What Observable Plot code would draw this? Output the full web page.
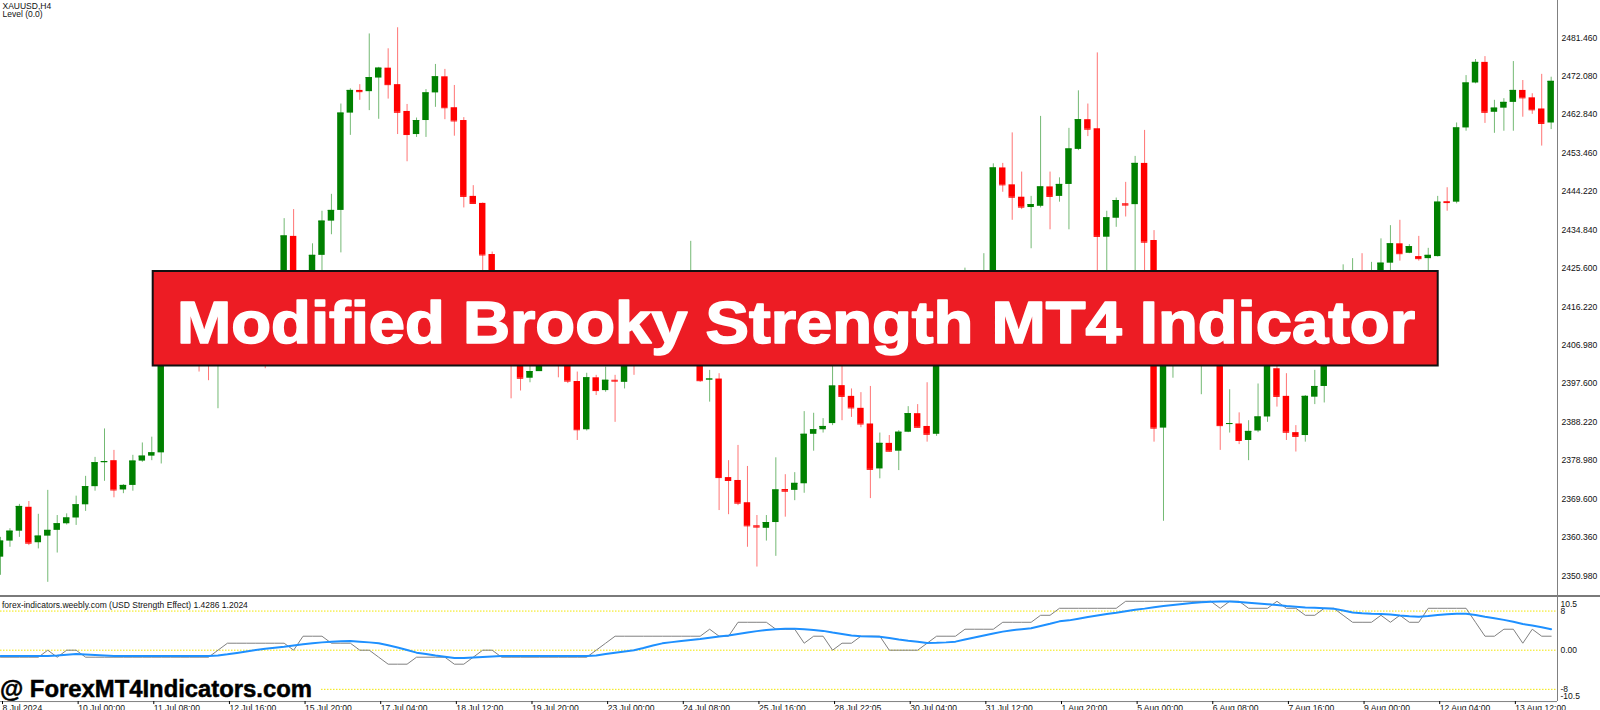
<!DOCTYPE html>
<html><head><meta charset="utf-8">
<script src="https://cdn.jsdelivr.net/npm/d3@7"></script>
<script src="https://cdn.jsdelivr.net/npm/@observablehq/plot@0.6"></script>
<style>
html,body{margin:0;padding:0;background:#fff;width:1600px;height:710px;overflow:hidden;}
#wrap{position:relative;width:1600px;height:710px;font-family:"Liberation Sans",Arial,sans-serif;}
#main{position:absolute;left:0;top:0;}
#ind{position:absolute;left:0;top:596px;}
#sep{position:absolute;left:0;top:595px;width:1600px;height:2px;background:#7a7a7a;}
#vax{position:absolute;left:1556.5px;top:0;width:1px;height:701px;background:#808080;}
#over{position:absolute;left:0;top:0;pointer-events:none;}
</style></head>
<body><div id="wrap"><div id="main"></div><div id="sep"></div><div id="ind"></div><div id="vax"></div>
<svg id="over" width="1600" height="710"></svg></div>
<script>
// ---- price data (XAUUSD H4), bar index 0..164 ----
const open = [2355.5,2359.4,2361.8,2367.6,2359.0,2360.6,2362.0,2363.6,2365.0,2368.2,2372.6,2378.4,2378.9,2371.8,2372.9,2378.8,2380.0,2380.8,2417.8,2420.2,
2416.5,2412.9,2406.8,2404.4,2410.5,2414.1,2412.9,2416.5,2415.3,2410.5,2417.8,2433.3,2420.2,2421.4,2428.7,2437.0,2439.6,2463.2,2468.7,2468.4,
2471.7,2474.1,2470.1,2463.6,2458.0,2461.4,2468.1,2472.0,2464.5,2461.4,2443.0,2441.3,2428.9,2417.8,2412.9,2406.8,2398.9,2400.5,2405.6,2408.0,
2404.4,2398.1,2386.4,2399.0,2395.9,2398.4,2397.9,2405.6,2403.2,2408.0,2410.5,2408.0,2412.9,2410.5,2417.8,2398.5,2398.7,2374.8,2374.1,2368.7,
2363.1,2362.5,2363.9,2371.9,2371.7,2373.3,2385.3,2386.4,2387.9,2397.1,2394.5,2391.6,2387.8,2376.9,2383.1,2381.2,2385.8,2390.3,2387.2,2385.3,
2410.5,2412.9,2411.7,2417.8,2415.3,2419.0,2449.9,2445.8,2442.8,2440.3,2440.6,2445.3,2443.0,2445.9,2454.4,2461.6,2459.4,2433.1,2437.7,2441.2,
2441.0,2451.0,2432.3,2386.8,2410.5,2415.3,2411.7,2409.3,2416.5,2412.9,2387.7,2387.8,2383.8,2386.1,2389.5,2401.2,2394.5,2385.7,2385.0,2394.3,
2396.9,2408.0,2412.9,2419.0,2421.4,2419.0,2422.6,2426.8,2431.5,2429.2,2428.4,2427.9,2428.4,2441.7,2441.6,2459.6,2470.5,2475.5,2463.4,2464.4,
2465.8,2468.7,2466.9,2464.2,2460.8];
const high = [2360.3,2362.4,2368.3,2369.0,2365.9,2371.7,2365.6,2366.0,2370.3,2375.1,2379.7,2386.6,2381.4,2373.1,2380.2,2383.2,2384.6,2420.2,2422.6,2421.4,
2419.0,2415.3,2410.5,2412.9,2416.5,2417.8,2419.0,2419.0,2417.8,2420.2,2437.6,2439.8,2423.8,2431.5,2439.4,2443.5,2465.4,2469.1,2470.1,2482.4,
2474.3,2478.8,2483.9,2465.3,2462.0,2468.9,2475.0,2473.8,2469.9,2462.1,2445.6,2441.4,2429.5,2420.2,2415.3,2409.3,2403.2,2408.0,2410.5,2410.5,
2406.8,2400.4,2400.1,2399.6,2401.6,2399.6,2408.0,2406.8,2410.5,2412.9,2412.9,2415.3,2416.5,2432.1,2420.2,2400.8,2400.0,2378.9,2382.6,2377.5,
2365.6,2365.6,2379.6,2375.5,2376.0,2390.8,2390.4,2389.1,2403.2,2403.2,2396.3,2395.4,2396.9,2385.6,2385.0,2386.2,2392.0,2392.5,2397.8,2412.9,
2415.3,2417.8,2425.6,2420.2,2429.1,2450.9,2451.0,2458.4,2448.9,2443.0,2462.4,2448.9,2447.5,2459.5,2468.6,2465.4,2477.8,2439.4,2442.6,2446.4,
2452.7,2459.0,2434.7,2412.9,2419.0,2417.8,2415.3,2420.2,2419.0,2415.3,2396.1,2390.5,2388.6,2397.5,2404.4,2402.2,2400.0,2387.4,2394.7,2400.8,
2410.5,2415.3,2426.4,2427.9,2429.1,2427.0,2432.7,2435.9,2437.2,2431.3,2433.3,2430.4,2443.0,2445.1,2460.8,2472.3,2476.2,2476.9,2466.3,2466.7,
2475.7,2471.1,2467.9,2472.6,2471.9];
const low = [2351.1,2357.9,2360.3,2358.3,2357.5,2349.4,2356.5,2363.3,2363.2,2366.6,2371.5,2373.9,2369.9,2370.9,2371.5,2378.5,2378.9,2378.1,2415.3,2414.1,
2410.5,2400.4,2398.3,2391.5,2408.0,2409.3,2410.5,2411.7,2401.2,2408.0,2415.3,2417.8,2417.8,2419.0,2423.8,2433.7,2429.3,2457.8,2466.3,2463.8,
2461.7,2466.6,2458.0,2451.4,2457.3,2457.3,2464.6,2461.6,2457.6,2440.2,2441.2,2423.8,2415.3,2408.0,2393.9,2395.8,2397.8,2402.2,2403.2,2399.0,
2397.6,2383.8,2386.1,2394.7,2395.5,2388.2,2396.3,2399.6,2402.2,2405.6,2404.4,2405.6,2408.0,2408.0,2397.9,2393.1,2366.8,2365.8,2368.0,2357.9,
2353.1,2359.4,2355.7,2365.2,2369.2,2371.0,2381.2,2385.6,2387.4,2388.6,2389.4,2386.9,2369.7,2374.5,2381.0,2376.5,2385.7,2386.9,2383.4,2384.8,
2406.8,2408.0,2409.3,2412.9,2412.9,2416.5,2444.0,2437.2,2439.8,2430.3,2440.2,2434.9,2441.6,2434.9,2454.1,2457.5,2422.6,2421.4,2435.5,2438.0,
2420.2,2420.2,2383.4,2364.2,2398.9,2404.4,2405.6,2394.9,2406.8,2381.4,2385.6,2382.8,2378.9,2385.7,2388.2,2391.9,2383.8,2381.0,2383.4,2392.5,
2392.9,2405.6,2410.5,2415.3,2416.5,2417.8,2420.2,2425.0,2427.3,2429.1,2427.3,2425.0,2428.3,2439.4,2441.2,2458.8,2470.3,2460.7,2458.3,2458.8,
2458.8,2462.2,2462.9,2455.2,2459.2];
const close = [2359.4,2361.8,2367.8,2358.9,2360.6,2362.0,2363.6,2365.0,2368.2,2372.6,2378.4,2378.7,2371.8,2372.9,2378.8,2380.0,2380.8,2417.8,2420.2,2416.5,
2412.9,2406.8,2404.4,2410.5,2414.1,2412.9,2416.5,2415.3,2410.5,2417.8,2433.4,2420.2,2421.4,2428.7,2437.0,2439.6,2463.2,2468.7,2468.4,2471.8,
2474.1,2470.1,2463.4,2458.0,2461.4,2468.1,2472.0,2464.5,2461.3,2443.0,2441.3,2428.8,2417.8,2412.9,2406.8,2398.9,2400.5,2405.6,2408.0,2404.4,
2398.2,2386.4,2399.0,2395.9,2398.4,2398.2,2405.6,2403.2,2408.0,2410.5,2408.0,2412.9,2410.5,2417.8,2398.3,2398.7,2374.8,2374.1,2368.6,2363.1,
2362.8,2363.9,2371.8,2371.5,2373.4,2385.3,2386.4,2387.2,2397.0,2394.5,2391.7,2387.8,2376.8,2383.1,2381.2,2385.8,2390.3,2387.0,2385.3,2410.5,
2412.9,2411.7,2417.8,2415.3,2419.0,2449.9,2445.8,2442.8,2440.4,2441.0,2445.3,2443.0,2445.9,2454.5,2461.6,2459.3,2433.3,2437.8,2442.0,2440.9,
2451.0,2431.9,2386.8,2410.5,2415.3,2411.7,2409.3,2416.5,2412.9,2387.4,2387.9,2383.8,2386.0,2389.5,2402.7,2394.5,2385.8,2384.8,2394.5,2396.9,
2408.0,2412.9,2419.0,2421.4,2419.0,2422.6,2426.8,2431.5,2429.1,2430.8,2427.9,2428.7,2441.6,2441.5,2459.6,2470.5,2475.5,2463.4,2464.4,2465.8,
2468.7,2466.9,2464.0,2460.7,2470.9];

// ---- indicator (USD Strength Effect) ----
const strength = [-1.43,-1.43,-1.43,-1.43,-1.43,0,-1.43,0,0,-1.43,-1.43,-1.43,-1.43,-1.43,-1.43,-1.43,-1.43,-1.43,-1.43,-1.43,
-1.43,-1.43,-1.43,0,1.43,1.43,1.43,1.43,1.43,1.43,1.43,0,2.86,2.86,2.86,1.43,1.43,1.43,0,0,
-1.43,-2.86,-2.86,-2.86,-1.43,-1.43,-1.43,-1.43,-2.86,-2.86,-1.43,0,0,-1.43,-1.43,-1.43,-1.43,-1.43,-1.43,-1.43,
-1.43,-1.43,-1.43,0,1.43,2.86,2.86,2.86,2.86,2.86,2.86,2.86,2.86,2.86,2.86,4.29,2.86,2.86,5.71,5.71,
5.71,5.71,4.29,4.29,4.29,1.43,2.86,2.86,0,1.43,1.43,2.86,2.86,2.86,0,0,0,0,1.43,2.86,
2.86,2.86,4.29,4.29,4.29,4.29,5.71,5.71,5.71,5.71,7.14,7.14,8.57,8.57,8.57,8.57,8.57,8.57,8.57,10,
10,10,10,10,10,10,10,10,10,8.57,10,10,8.57,8.57,8.57,10,8.57,8.57,7.14,7.14,
8.57,8.57,7.14,5.71,5.71,5.71,7.14,5.71,7.14,5.71,5.71,8.57,8.57,8.57,8.57,8.57,5.71,2.86,2.86,4.29,
4.29,1.43,4.29,2.86,2.86];
const signal = [-1.2,-1.2,-1.2,-1.2,-1.2,-1.2,-1.1,-0.95,-0.8,-0.9,-1.0,-1.1,-1.2,-1.2,-1.2,-1.2,-1.2,-1.2,-1.2,-1.2,
-1.2,-1.2,-1.2,-1.1,-0.85,-0.55,-0.25,0.05,0.3,0.5,0.7,0.95,1.2,1.4,1.6,1.75,1.85,1.9,1.75,1.6,
1.4,1.0,0.55,0.05,-0.5,-0.8,-1.1,-1.35,-1.6,-1.6,-1.5,-1.4,-1.3,-1.2,-1.2,-1.2,-1.2,-1.2,-1.2,-1.2,
-1.2,-1.2,-1.2,-1.1,-0.8,-0.5,-0.25,0,0.45,0.95,1.4,1.65,1.9,2.1,2.3,2.55,2.8,3.0,3.3,3.6,
3.9,4.15,4.3,4.38,4.4,4.3,4.15,3.95,3.6,3.3,3.0,2.85,2.8,2.75,2.5,2.2,1.95,1.75,1.45,1.5,
1.6,1.75,2.2,2.6,3.0,3.4,3.8,4.1,4.3,4.5,4.95,5.4,5.9,6.1,6.45,6.8,7.1,7.4,7.65,7.95,
8.25,8.5,8.8,9.05,9.25,9.45,9.65,9.8,9.9,9.95,9.95,9.85,9.7,9.55,9.4,9.25,9.05,8.9,8.75,8.7,
8.6,8.5,8.1,7.7,7.55,7.45,7.4,7.3,7.1,6.95,6.85,7.0,7.2,7.35,7.45,7.45,7.2,6.85,6.55,6.2,
5.8,5.35,5.05,4.7,4.3];
const levels = [8, 0, -8];

// ---- axis labels ----
const priceTicks = [2481.46,2472.08,2462.84,2453.46,2444.22,2434.84,2425.60,2416.22,2406.98,2397.60,2388.22,2378.98,2369.60,2360.36,2350.98];
const dateIdx = [0,8,16,24,32,40,48,56,64,72,80,88,96,104,112,120,128,136,144,152,160];
const dateLabels = ["8 Jul 2024","10 Jul 00:00","11 Jul 08:00","12 Jul 16:00","15 Jul 20:00","17 Jul 04:00","18 Jul 12:00","19 Jul 20:00","23 Jul 00:00","24 Jul 08:00","25 Jul 16:00","28 Jul 22:05","30 Jul 04:00","31 Jul 12:00","1 Aug 20:00","5 Aug 00:00","6 Aug 08:00","7 Aug 16:00","9 Aug 00:00","12 Aug 04:00","13 Aug 12:00"];
const indLabels = ["10.5","8","0.00","-8","-10.5"];
const indLabelVals = [10.5, 8, 0, -8, -10.5];

const FONT = "Liberation Sans, Arial, sans-serif";
const bars = open.map((o, i) => ({i, o, h: high[i], l: low[i], c: close[i], col: close[i] >= o ? "#008000" : "#ff0000"}));
const xDomain = [0, 164.67];
const HW = 0.34;

const main = Plot.plot({
  width: 1600, height: 596, marginLeft: 0, marginRight: 43, marginTop: 0, marginBottom: 0,
  x: {domain: xDomain, axis: null},
  y: {domain: [2345.96, 2490.51], axis: null},
  color: {type: "identity"},
  style: {fontFamily: FONT, background: "transparent", overflow: "visible"},
  marks: [
    Plot.ruleX(bars, {x: "i", y1: "l", y2: "h", stroke: "col", strokeOpacity: 0.55, strokeWidth: 1}),
    Plot.rect(bars, {x1: d => d.i - HW, x2: d => d.i + HW, y1: "o", y2: "c", fill: "col"}),
    Plot.ruleY(bars, {x1: d => d.i - HW, x2: d => d.i + HW, y: "c", stroke: "col", strokeWidth: 1}),
    Plot.axisY({anchor: "right", ticks: priceTicks, tickFormat: d => d.toFixed(3), tickSize: 0, tickPadding: 4, fontSize: 8.6, fill: "#111"})
  ]
});
document.getElementById("main").appendChild(main);

const dmap = new Map(dateIdx.map((d, k) => [d, dateLabels[k]]));
const ind = Plot.plot({
  width: 1600, height: 114, marginLeft: 0, marginRight: 43, marginTop: 2.35, marginBottom: 8.95,
  x: {domain: xDomain, axis: null},
  y: {domain: [-10.5, 10.5], axis: null},
  style: {fontFamily: FONT, background: "transparent", overflow: "visible"},
  marks: [
    Plot.ruleY(levels, {stroke: "#f2e600", strokeWidth: 1, strokeDasharray: "1.5,1.5"}),
    Plot.lineY(strength, {x: (d, i) => i, y: d => d, stroke: "#808080", strokeWidth: 1}),
    Plot.lineY(signal, {x: (d, i) => i, y: d => d, stroke: "#1e90ff", strokeWidth: 2}),
    Plot.ruleY([-10.5], {stroke: "#808080", strokeWidth: 1}),
    Plot.axisX({anchor: "bottom", ticks: dateIdx, tickFormat: d => dmap.get(d), tickSize: 3, tickPadding: 0.5, textAnchor: "start", dx: 2, fontSize: 8.6, fill: "#111"}),
    Plot.text(indLabelVals.slice(1, 4), {x: xDomain[1], y: d => d, text: (d, k) => indLabels[k + 1], dx: 3, textAnchor: "start", fontSize: 8.5, fill: "#111"}),
    Plot.text([indLabelVals[0]], {x: xDomain[1], y: d => d, text: () => indLabels[0], dx: 3, dy: 5.4, textAnchor: "start", fontSize: 8.5, fill: "#111"}),
    Plot.text([indLabelVals[4]], {x: xDomain[1], y: d => d, text: () => indLabels[4], dx: 3, dy: -5, textAnchor: "start", fontSize: 8.5, fill: "#111"})
  ]
});
document.getElementById("ind").appendChild(ind);

// ---- overlays: labels, banner, watermark ----
const over = d3.select("#over");
over.append("text").attr("x", 2.5).attr("y", 8.5).attr("font-size", 8.5).attr("font-family", FONT).attr("fill", "#111").text("XAUUSD,H4");
over.append("text").attr("x", 2.5).attr("y", 17).attr("font-size", 8.5).attr("font-family", FONT).attr("fill", "#111").text("Level (0.0)");
over.append("text").attr("x", 2).attr("y", 607.8).attr("font-size", 8.5).attr("font-family", FONT).attr("fill", "#111").text("forex-indicators.weebly.com (USD Strength Effect) 1.4286 1.2024");
over.append("rect").attr("x", 152.7).attr("y", 271).attr("width", 1285).attr("height", 94.5).attr("fill", "#ed1c24").attr("stroke", "#111").attr("stroke-width", 2);
over.append("text").attr("x", 796).attr("y", 342.5).attr("text-anchor", "middle").attr("font-size", 59).attr("font-weight", "bold")
  .attr("font-family", FONT).attr("fill", "#fff").attr("stroke", "#fff").attr("stroke-width", 1.6).attr("stroke-linejoin", "round")
  .attr("textLength", 1238).attr("lengthAdjust", "spacingAndGlyphs").text("Modified Brooky Strength MT4 Indicator");
over.append("rect").attr("x", 0).attr("y", 678).attr("width", 320).attr("height", 21.5).attr("fill", "#fff");
over.append("text").attr("x", 0).attr("y", 697).attr("font-size", 23.5).attr("font-weight", "bold").attr("font-family", FONT)
  .attr("fill", "#000").attr("stroke", "#000").attr("stroke-width", 0.5).attr("textLength", 312).attr("lengthAdjust", "spacingAndGlyphs").text("@ ForexMT4Indicators.com");
</script></body></html>
